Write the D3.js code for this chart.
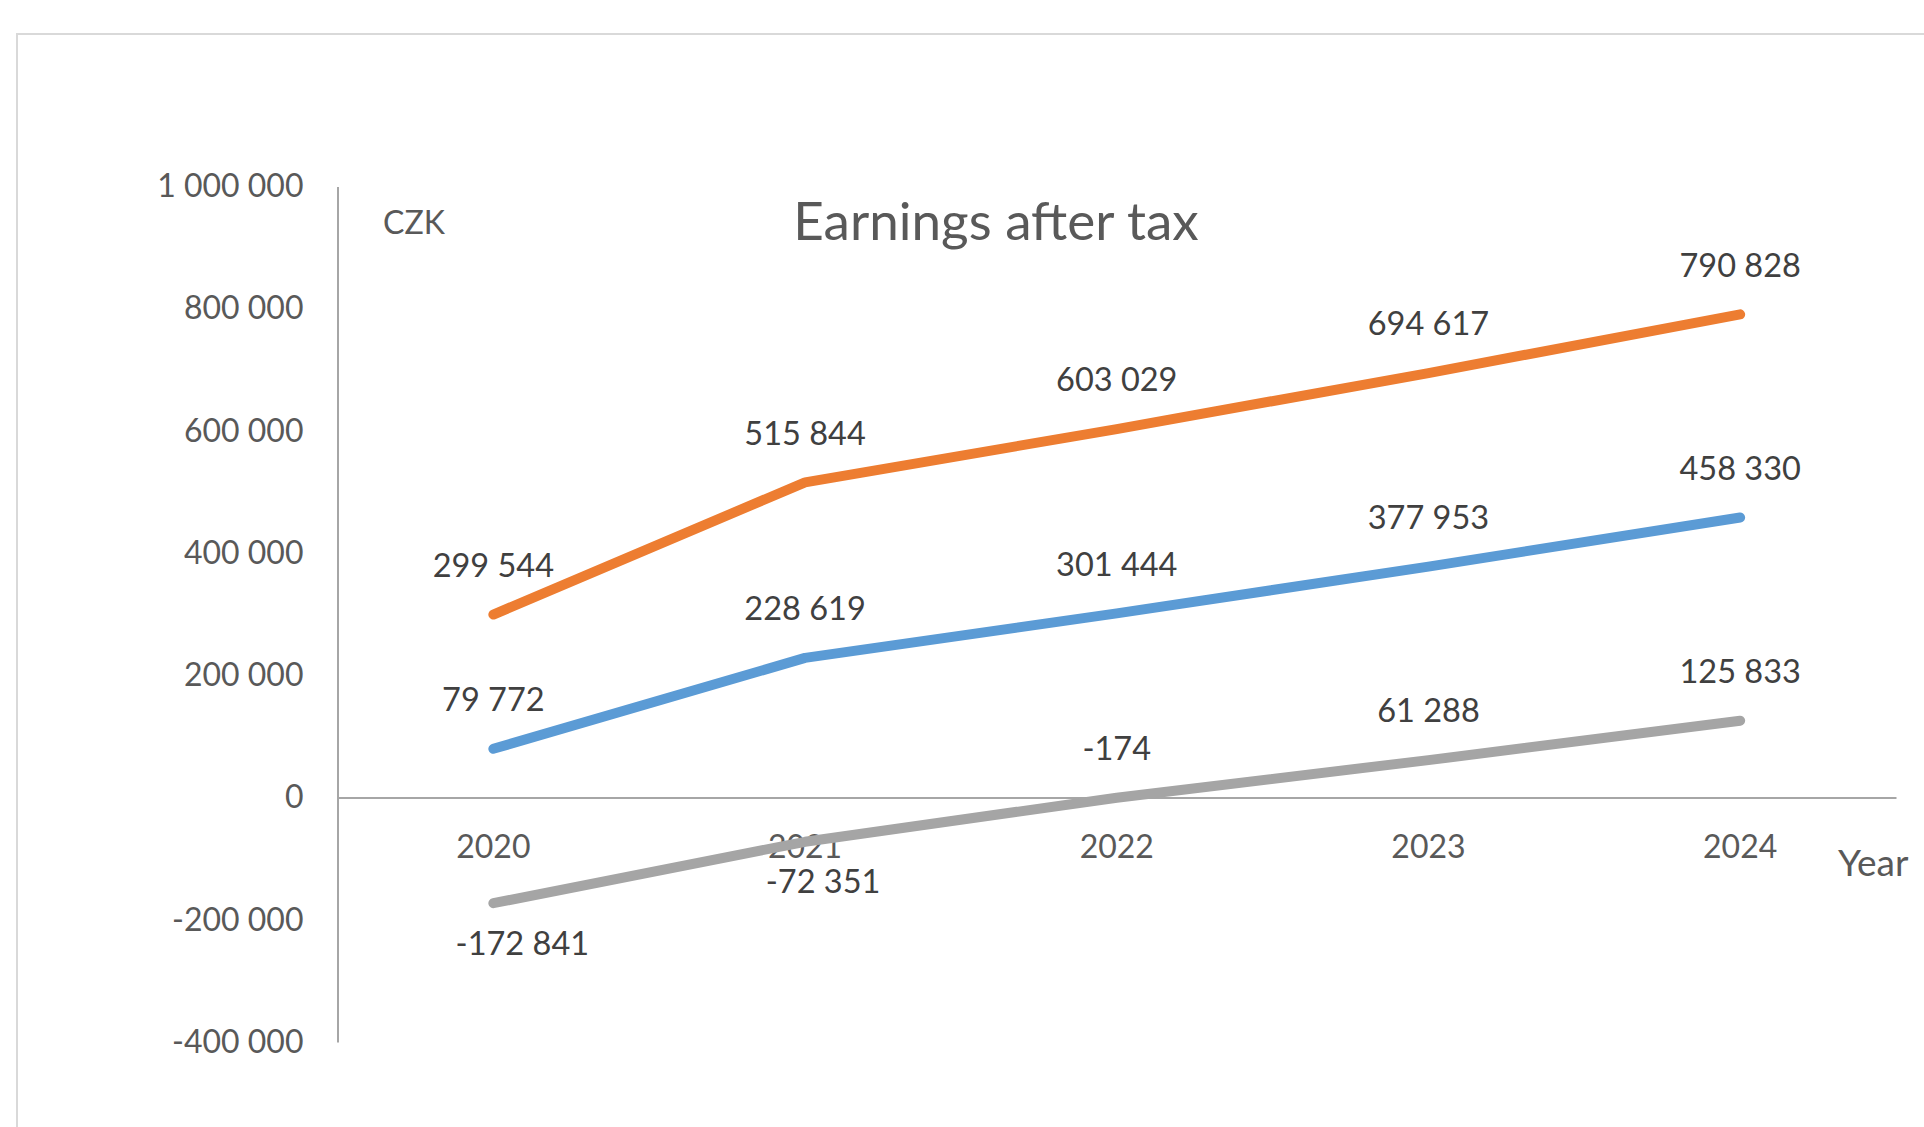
<!DOCTYPE html>
<html>
<head>
<meta charset="utf-8">
<script src="https://cdn.jsdelivr.net/npm/d3@7"></script>
<style>
  body { margin: 0; background: #fff; }
  svg { display: block; }
  text { font-family: Lato, "Open Sans", sans-serif; }
</style>
</head>
<body>
<script>
// data
var years = ["2020", "2021", "2022", "2023", "2024"];
var seriesColors = ["#ED7D31", "#5B9BD5", "#A5A5A5"];
var orangeValues = [299544, 515844, 603029, 694617, 790828];
var blueValues = [79772, 228619, 301444, 377953, 458330];
var grayValues = [-172841, -72351, -174, 61288, 125833];
var yTicks = [-400000, -200000, 0, 200000, 400000, 600000, 800000, 1000000];

// where each data label sits relative to its point (gray 2020/2021 sit below)
var labelPlace = [
  ["above", "above", "above", "above", "above"],
  ["above", "above", "above", "above", "above"],
  ["below", "below2", "above", "above", "above"]
];

var W = 1924, H = 1127;
var plotLeft = 337.5, plotRight = 1896, plotTop = 186.5, plotBottom = 1042;

var svg = d3.select("body").append("svg")
    .attr("width", W).attr("height", H);

// chart frame
svg.append("rect")
    .attr("x", 17).attr("y", 34)
    .attr("width", 2000).attr("height", 2000)
    .attr("fill", "#fff")
    .attr("stroke", "#D9D9D9")
    .attr("stroke-width", 2);

var x = d3.scaleBand().domain(years).range([plotLeft, plotRight]);
var y = d3.scaleLinear().domain([-400000, 1000000]).range([plotBottom, plotTop]);

var fmt = function(v) {
    var s = d3.format(",")(Math.abs(v)).replace(/,/g, " ");
    return (v < 0 ? "-" : "") + s;
};

// y axis
var yAxis = svg.append("g")
    .attr("transform", "translate(" + plotLeft + ",0)")
    .call(d3.axisLeft(y).tickValues(yTicks).tickSize(0).tickPadding(34).tickFormat(fmt));
yAxis.select(".domain").attr("stroke", "#A6A6A6").attr("stroke-width", 2);
yAxis.selectAll("text").attr("font-size", 32).attr("fill", "#595959")
    .attr("font-family", "Lato, 'Open Sans', sans-serif");

// x axis at zero
var xAxis = svg.append("g")
    .attr("transform", "translate(0," + y(0) + ")")
    .call(d3.axisBottom(x).tickSize(0).tickPadding(38));
xAxis.select(".domain").attr("stroke", "#A6A6A6").attr("stroke-width", 2);
xAxis.selectAll("text").attr("font-size", 32).attr("fill", "#595959")
    .attr("font-family", "Lato, 'Open Sans', sans-serif");

// titles
svg.append("text")
    .attr("x", 996).attr("y", 240)
    .attr("text-anchor", "middle")
    .attr("font-size", 53).attr("fill", "#595959")
    .text("Earnings after tax");

svg.append("text")
    .attr("x", 383).attr("y", 234)
    .attr("font-size", 32).attr("fill", "#595959")
    .text("CZK");

svg.append("text")
    .attr("x", 1838).attr("y", 876)
    .attr("font-size", 37).attr("fill", "#595959")
    .text("Year");

// lines
var allSeries = [orangeValues, blueValues, grayValues];
var line = d3.line()
    .x(function(d, i) { return x(years[i]) + x.bandwidth() / 2; })
    .y(function(d) { return y(d); });

// draw gray first so orange/blue sit on top like the original
[2, 1, 0].forEach(function(s) {
    svg.append("path")
        .datum(allSeries[s])
        .attr("d", line)
        .attr("fill", "none")
        .attr("stroke", seriesColors[s])
        .attr("stroke-width", 10)
        .attr("stroke-linecap", "round")
        .attr("stroke-linejoin", "round");
});

// data labels
allSeries.forEach(function(vals, s) {
    svg.append("g").selectAll("text")
        .data(vals)
        .enter().append("text")
        .attr("x", function(d, i) {
            var p = labelPlace[s][i];
            var dx = p == "below" ? 29 : (p == "below2" ? 18 : 0);
            return x(years[i]) + x.bandwidth() / 2 + dx;
        })
        .attr("y", function(d, i) {
            var p = labelPlace[s][i];
            return y(d) + (p == "above" ? -49 : 40);
        })
        .attr("dy", "0.35em")
        .attr("text-anchor", "middle")
        .attr("font-size", 32.5)
        .attr("fill", "#404040")
        .text(fmt);
});
</script>
</body>
</html>
